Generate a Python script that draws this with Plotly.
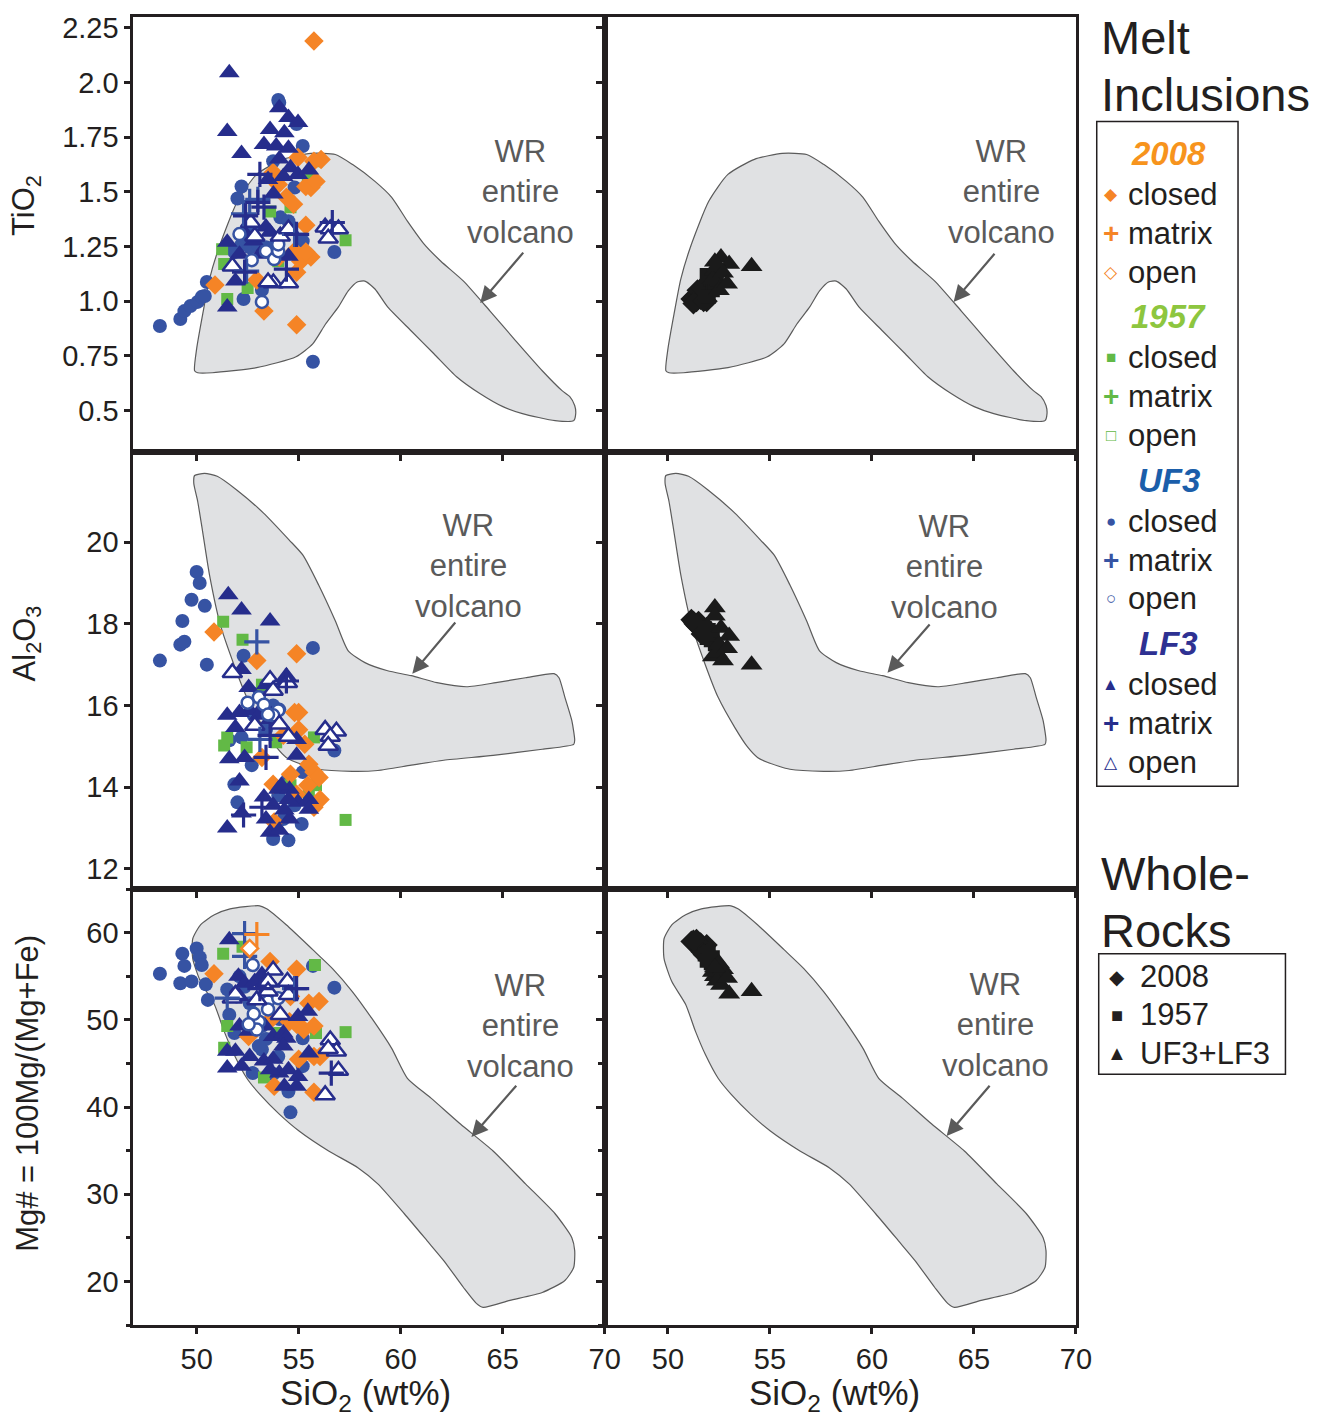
import plotly.graph_objects as go

W, H = 1339, 1425
FONT = "Liberation Sans, Arial, Helvetica, sans-serif"

# ---------------- Melt inclusions: TiO2 panel ----------------
LF3_closed_ti_si = [51.6,51.5,52.2,53.6,53.3,54.05,54.5,54.97,54.3,53.9,54.5,54.05,54.6,54.25,54.97,55.5,53.76,53.5,51.5,52.3,53.4,54.5,51.9,51.5,52.8,53.1,52.1,53.6]
LF3_closed_ti = [2.045,1.776,1.676,1.785,1.717,1.885,1.84,1.817,1.77,1.71,1.70,1.65,1.61,1.57,1.58,1.60,1.49,1.557,1.27,1.32,1.34,1.206,1.093,0.974,1.275,1.215,1.215,1.316]
LF3_open_ti_si = [52.65,54.1,54.5,51.75,52.85,53.76,54.5,56.3,56.55,56.95,56.45,53.5]
LF3_open_ti = [1.36,1.297,1.33,1.16,1.297,1.083,1.083,1.338,1.33,1.33,1.288,1.088]
LF3_matrix_ti_si = [53.1,53.0,52.4,54.4,54.9,56.65,52.35,53.3]
LF3_matrix_ti = [1.58,1.452,1.39,1.147,1.306,1.36,1.133,1.43]
UF3_closed_ti_si = [48.2,49.2,49.4,49.7,50.05,50.25,50.4,50.5,52.3,53.2,52.2,52.0,54.0,54.05,54.9,55.2,53.75,54.8,54.1,54.5,55.2,56.75,55.7,51.5,51.85,52.2,52.6,53.0,53.4,52.7,53.75,52.35]
UF3_closed_ti = [0.887,0.919,0.955,0.978,0.997,1.02,1.024,1.088,1.01,1.051,1.525,1.47,1.92,1.908,1.81,1.71,1.64,1.52,1.384,1.366,1.275,1.225,0.723,1.247,1.225,1.26,1.247,1.26,1.247,1.33,1.247,1.307]
UF3_open_ti_si = [53.2,52.7,53.4,53.8,54.0,54.0,52.1]
UF3_open_ti = [0.997,1.188,1.229,1.193,1.229,1.26,1.307]
UF3_matrix_ti_si = [52.6,53.0,52.3,52.45,54.8]
UF3_matrix_ti = [1.457,1.466,1.40,1.138,1.306]
Y2008_closed_ti_si = [55.75,50.9,53.3,54.9,52.95,55.35,54.8,54.9,55.1,55.6,55.35,54.4,54.75,55.35,55.6,56.1,55.75,54.97,54.0,53.75,55.85,54.05]
Y2008_closed_ti = [2.19,1.074,0.955,0.892,1.097,1.348,1.229,1.133,1.183,1.202,1.225,1.475,1.443,1.525,1.52,1.648,1.64,1.657,1.534,1.589,1.548,1.202]
Y1957_closed_ti_si = [54.6,55.9,57.3,51.5,52.5,51.35,51.25,53.6,54.0,55.45]
Y1957_closed_ti = [1.43,1.64,1.279,1.01,1.06,1.17,1.238,1.41,1.183,1.566]

# ---------------- Melt inclusions: Al2O3 panel ----------------
UF3_closed_al_si = [48.2,49.2,49.4,49.3,49.75,50.0,50.15,50.4,50.5,52.3,55.7,51.6,52.7,51.85,52.0,55.2,56.75,54.5,55.15,53.75,54.5,52.2,53.75,53.1,54.05,52.8,53.4,54.25,54.8,54.0]
UF3_closed_al = [17.1,17.49,17.56,18.07,18.59,19.27,19.0,18.44,17.0,17.22,17.41,15.15,14.54,14.07,13.63,14.37,14.9,14.24,13.1,12.73,12.7,15.22,16.0,16.32,15.9,15.76,15.41,13.22,13.56,13.8]
UF3_open_al_si = [53.05,53.3,54.0,53.75,52.5,53.5]
UF3_open_al = [16.2,16.02,15.88,15.76,16.07,15.78]
UF3_matrix_al_si = [52.95,53.1]
UF3_matrix_al = [17.56,15.17]
LF3_closed_al_si = [51.55,52.2,53.6,52.2,52.55,51.5,51.9,51.6,52.35,52.1,51.5,52.2,53.3,53.4,53.75,54.0,54.55,54.97,55.5,55.5,53.6,54.05,54.55,54.3,54.5,54.9,54.9,52.6,52.1,53.05,53.6,53.3,54.4,53.4,54.15]
LF3_closed_al = [18.71,18.34,18.07,16.88,16.44,15.76,15.46,14.7,14.73,14.15,13.0,13.37,13.76,13.22,13.56,13.95,13.95,13.63,13.7,13.46,12.9,12.95,13.22,13.44,13.7,15.17,14.78,15.88,15.83,15.76,15.66,16.0,16.73,16.51,14.05]
LF3_open_al_si = [51.75,53.6,54.45,53.75,54.05,54.5,52.85,56.3,56.85,56.55,56.45]
LF3_open_al = [16.8,16.63,16.56,16.37,15.54,15.24,15.51,15.41,15.37,15.24,15.02]
LF3_matrix_al_si = [54.4,53.4,53.2,52.3,53.6]
LF3_matrix_al = [16.6,14.73,13.51,13.32,15.27]
Y2008_closed_al_si = [50.85,52.95,54.9,54.8,55.0,55.0,55.3,54.25,53.2,55.5,55.75,56.0,55.45,56.05,53.75,54.6,54.9,55.75,53.8]
Y2008_closed_al = [17.8,17.1,17.27,15.83,15.83,15.41,15.05,15.27,14.73,14.56,14.37,14.24,14.05,13.7,14.07,14.32,13.83,13.51,13.15]
Y1957_closed_al_si = [51.3,52.25,57.3,55.75,55.85,51.35,51.5,52.45,53.9,53.2,54.6,55.5]
Y1957_closed_al = [18.05,17.61,13.2,15.22,14.05,15.02,15.22,14.98,15.1,16.51,14.05,13.8]

# ---------------- Melt inclusions: Mg# panel ----------------
UF3_closed_mg_si = [48.2,49.3,49.4,49.2,49.75,50.0,50.15,50.25,50.45,50.55,55.7,56.75,54.6,52.75,51.6,51.85,53.2,53.75,54.5,55.2,55.2,52.1,52.35,51.95,52.6,52.8,53.2,53.4,54.05,51.5,53.05,54.0]
UF3_closed_mg = [55.3,57.6,56.2,54.2,54.4,58.2,57.2,56.3,54.1,52.3,56.2,53.7,39.4,43.9,50.6,48.5,46.6,43.8,41.8,44.7,47.9,55.0,53.8,52.7,51.9,50.4,49.3,47.8,50.1,53.5,47.0,45.8]
UF3_open_mg_si = [52.75,53.5,53.05,52.8,54.0,52.95,52.55,53.5]
UF3_open_mg = [56.3,52.1,49.8,50.7,52.5,48.9,49.5,51.2]
UF3_matrix_mg_si = [52.35,52.35,54.8,51.5]
UF3_matrix_mg = [59.9,57.3,53.6,52.5]
LF3_closed_mg_si = [51.6,51.5,51.5,51.9,52.2,52.6,52.1,52.55,53.3,53.75,53.35,53.75,54.25,54.4,54.25,54.97,55.45,55.5,54.05,54.5,54.3,54.97,54.9,53.6,52.05,52.35,52.85,53.3,53.6,52.1,53.2]
LF3_closed_mg = [59.2,44.5,46.4,46.4,44.7,45.8,49.3,48.7,45.3,45.5,49.3,48.1,48.5,47.9,47.0,50.4,51.0,46.2,43.9,44.3,42.4,43.5,42.4,44.3,55.0,54.2,54.4,54.2,54.2,52.7,55.2]
LF3_open_mg_si = [53.75,53.5,54.45,54.5,51.75,52.95,54.1,51.9,56.55,56.85,56.45,56.95,56.3,53.5]
LF3_open_mg = [55.7,54.4,54.4,52.9,52.5,52.3,50.6,52.9,47.7,46.4,46.7,44.2,41.4,53.3]
LF3_matrix_mg_si = [54.9,56.6,53.1]
LF3_matrix_mg = [53.6,43.9,53.6]
Y2008_closed_mg_si = [50.85,53.6,54.9,55.5,56.0,55.75,56.05,55.75,53.8,54.55,54.9,55.0,55.25,55.75,54.6,53.7,52.55]
Y2008_closed_mg = [55.3,56.7,55.8,51.9,52.1,45.8,45.8,41.7,42.4,49.8,49.5,45.5,48.9,49.3,52.7,50.2,48.1]
Y2008_matrix_mg_si = [52.95]
Y2008_matrix_mg = [59.8]
Y2008_open_mg_si = [52.6]
Y2008_open_mg = [58.2]
Y1957_closed_mg_si = [51.3,52.25,55.8,57.3,55.85,51.5,51.35,53.3,54.05]
Y1957_closed_mg = [57.6,58.4,56.3,48.6,48.5,49.3,46.8,43.4,48.5]

# ---------------- Whole rocks ----------------
WR2008_si = [51.15,51.3,51.4,51.5,51.6,51.7,51.8,51.9,51.45,51.65,51.25,51.75]
WR2008_ti = [1.01,1.02,1.0,1.03,1.01,1.04,1.02,1.0,1.05,1.06,0.99,1.0]
WR2008_al = [18.1,18.0,17.95,18.05,17.95,17.85,17.8,17.9,18.0,17.75,18.05,17.8]
WR2008_mg = [59.0,58.7,59.2,58.5,58.8,58.3,58.0,58.6,58.9,57.8,59.1,57.5]
WR1957_si = [51.8,52.0,52.1,52.2,52.3,51.9,52.4,52.0]
WR1957_ti = [1.04,1.07,1.1,1.05,1.08,1.12,1.1,1.02]
WR1957_al = [17.9,17.7,17.6,17.8,17.5,17.65,17.4,17.85]
WR1957_mg = [57.5,57.0,56.5,57.2,56.0,56.8,55.5,57.8]
WRF3_si = [52.3,52.6,53.0,52.2,52.4,52.7,52.5,54.1,52.9,52.3]
WRF3_ti = [1.14,1.2,1.17,1.1,1.16,1.13,1.05,1.16,1.08,1.18]
WRF3_al = [18.4,17.9,17.7,17.2,17.3,17.1,17.5,17.0,17.4,18.2]
WRF3_mg = [55.0,54.0,53.0,55.5,54.5,55.8,56.5,53.3,54.8,56.0]

# ---------------- WR "entire volcano" field outlines ----------------
field_ti_si = [49.9,50.0,50.3,50.63,51.1,52.0,52.94,54.24,55.6,56.8,57.63,58.74,59.56,60.33,61.15,61.97,63.08,64.38,65.64,66.94,67.91,68.29,68.53,68.58,68.48,67.57,65.97,65.01,63.9,62.74,61.63,60.52,59.36,58.74,58.25,57.87,57.43,56.95,56.32,55.69,54.87,52.94,50.77,50.05]
field_ti = [0.682,0.782,0.942,1.101,1.247,1.457,1.58,1.649,1.676,1.671,1.626,1.548,1.475,1.366,1.261,1.183,1.092,0.955,0.819,0.682,0.591,0.564,0.523,0.486,0.454,0.454,0.486,0.518,0.577,0.655,0.76,0.864,0.974,1.056,1.092,1.088,1.047,0.974,0.896,0.805,0.746,0.696,0.673,0.673]
field_al_si = [49.9,50.39,51.01,51.98,53.28,54.54,55.21,55.98,56.8,57.43,58.25,59.36,60.52,61.78,63.22,64.67,66.12,67.52,67.76,68.05,68.39,68.53,68.48,66.94,64.53,62.11,60.52,58.88,57.63,55.98,54.87,54.39,53.91,53.28,52.46,51.83,51.16,50.63,50.29,50.05,49.86]
field_al = [21.63,21.68,21.61,21.27,20.71,20.05,19.68,18.95,18.07,17.34,17.05,16.85,16.73,16.56,16.46,16.56,16.68,16.78,16.68,16.2,15.63,15.15,15.05,14.93,14.78,14.66,14.54,14.41,14.39,14.44,14.61,14.73,14.98,15.46,16.2,17.0,17.98,19.2,20.27,21.0,21.44]
field_mg_si = [49.81,50.19,50.87,51.64,53.09,53.43,54.39,55.69,56.66,57.63,58.59,59.56,60.33,61.49,62.93,64.53,66.12,67.57,68.39,68.53,68.48,68.05,66.94,65.35,64.04,63.71,63.08,62.11,61.29,60.18,58.88,57.92,56.47,55.02,54.05,53.09,52.46,51.83,51.35,50.87,50.19,49.81]
field_mg = [59.31,60.91,62.06,62.74,63.09,62.74,60.91,58.06,55.89,53.26,50.17,46.74,43.31,41.03,38.06,34.97,31.2,27.77,25.03,23.54,21.6,20.11,18.74,17.83,17.03,17.49,19.31,22.4,24.69,27.77,31.2,33.03,34.97,37.26,39.2,41.49,43.31,46.06,48.69,51.77,54.4,57.03]

# axis tick values / labels
x_ticks = [50, 55, 60, 65, 70]
ti_ticks = [0.5, 0.75, 1.0, 1.25, 1.5, 1.75, 2.0, 2.25]
ti_labels = ["0.5", "0.75", "1.0", "1.25", "1.5", "1.75", "2.0", "2.25"]
al_ticks = [12, 14, 16, 18, 20]
mg_ticks = [20, 30, 40, 50, 60]

C_OR = "#F58426"
C_GR = "#62B946"
C_UF = "#3653A3"
C_LF = "#262D8C"
C_FRAME = "#231F20"
C_GRAY = "#5A5A5A"

fig = go.Figure()

def ax(i):
    return ("x" if i == 1 else f"x{i}", "y" if i == 1 else f"y{i}")

def field(i, xs, ys):
    xa, ya = ax(i)
    fig.add_trace(go.Scatter(x=xs + xs[:1], y=ys + ys[:1], mode="lines", line=dict(color="#5B5B5B", width=1.2, shape="spline", smoothing=0.6),
                             fill="toself", fillcolor="#E0E1E3", xaxis=xa, yaxis=ya, hoverinfo="skip", showlegend=False))

def pts(i, xs, ys, symbol, color, size, line_color=None, line_width=0):
    xa, ya = ax(i)
    fig.add_trace(go.Scatter(x=xs, y=ys, mode="markers", xaxis=xa, yaxis=ya, showlegend=False,
                             marker=dict(symbol=symbol, color=color, size=size,
                                         line=dict(color=line_color or color, width=line_width))))

def cross(i, xs, ys, color):
    pts(i, xs, ys, "cross-thin", color, 18, color, 3.2)

fields = [(field_ti_si, field_ti), (field_al_si, field_al), (field_mg_si, field_mg)]
for r, (fx, fy) in enumerate(fields):
    field(2 * r + 1, fx, fy)
    field(2 * r + 2, fx, fy)

# melt inclusion panels
mi = [
    (1, dict(uc=(UF3_closed_ti_si, UF3_closed_ti), g=(Y1957_closed_ti_si, Y1957_closed_ti), o=(Y2008_closed_ti_si, Y2008_closed_ti),
             lc=(LF3_closed_ti_si, LF3_closed_ti), uo=(UF3_open_ti_si, UF3_open_ti), lo=(LF3_open_ti_si, LF3_open_ti),
             um=(UF3_matrix_ti_si, UF3_matrix_ti), lm=(LF3_matrix_ti_si, LF3_matrix_ti))),
    (3, dict(uc=(UF3_closed_al_si, UF3_closed_al), g=(Y1957_closed_al_si, Y1957_closed_al), o=(Y2008_closed_al_si, Y2008_closed_al),
             lc=(LF3_closed_al_si, LF3_closed_al), uo=(UF3_open_al_si, UF3_open_al), lo=(LF3_open_al_si, LF3_open_al),
             um=(UF3_matrix_al_si, UF3_matrix_al), lm=(LF3_matrix_al_si, LF3_matrix_al))),
    (5, dict(uc=(UF3_closed_mg_si, UF3_closed_mg), g=(Y1957_closed_mg_si, Y1957_closed_mg), o=(Y2008_closed_mg_si, Y2008_closed_mg),
             lc=(LF3_closed_mg_si, LF3_closed_mg), uo=(UF3_open_mg_si, UF3_open_mg), lo=(LF3_open_mg_si, LF3_open_mg),
             um=(UF3_matrix_mg_si, UF3_matrix_mg), lm=(LF3_matrix_mg_si, LF3_matrix_mg))),
]
for i, d in mi:
    pts(i, *d["uc"], "circle", C_UF, 14)
    pts(i, *d["g"], "square", C_GR, 12)
    pts(i, *d["o"], "diamond", C_OR, 15)
    pts(i, *d["lc"], "triangle-up", C_LF, 18)
    pts(i, *d["uo"], "circle", "white", 12, C_UF, 2.5)
    pts(i, *d["lo"], "triangle-up", "white", 17, C_LF, 2.5)
    cross(i, *d["um"], C_UF)
    cross(i, *d["lm"], C_LF)
cross(5, Y2008_matrix_mg_si, Y2008_matrix_mg, C_OR)
pts(5, Y2008_open_mg_si, Y2008_open_mg, "diamond", "white", 13, C_OR, 2.5)

# whole-rock panels
for i, ys in [(2, (WR2008_ti, WR1957_ti, WRF3_ti)), (4, (WR2008_al, WR1957_al, WRF3_al)), (6, (WR2008_mg, WR1957_mg, WRF3_mg))]:
    pts(i, WR2008_si, ys[0], "diamond", "#1A1A1A", 17)
    pts(i, WR1957_si, ys[1], "square", "#1A1A1A", 14)
    pts(i, WRF3_si, ys[2], "triangle-up", "#1A1A1A", 19)

# ---------------- axes ----------------
xl = [135 / W, 612 / W]
xr = [612 / W, 1089 / W]
rows = [[1 - 449 / H, 1 - 12 / H], [1 - 887 / H, 1 - 449 / H], [1 - 1325 / H, 1 - 887 / H]]
yranges = [[0.3086, 2.300], [11.512, 22.195], [14.97, 65.03]]
yticks = [(ti_ticks, ti_labels), (al_ticks, [str(v) for v in al_ticks]), (mg_ticks, [str(v) for v in mg_ticks])]
minor_dt = [None, None, 5]

common = dict(showline=True, mirror=True, linewidth=3, linecolor=C_FRAME, ticks="outside", ticklen=6,
              tickwidth=3, tickcolor=C_FRAME, showgrid=False, zeroline=False,
              tickfont=dict(family=FONT, size=29, color=C_FRAME))
layout = {}
for r in range(3):
    for c in range(2):
        i = 2 * r + c + 1
        xn = "xaxis" if i == 1 else f"xaxis{i}"
        yn = "yaxis" if i == 1 else f"yaxis{i}"
        xa, ya = ax(i)
        layout[xn] = dict(common, domain=xl if c == 0 else xr, range=[46.9, 70], anchor=ya,
                          tickvals=x_ticks, showticklabels=(r == 2))
        yd = dict(common, domain=rows[r], range=yranges[r], anchor=xa,
                  tickvals=yticks[r][0], ticktext=yticks[r][1], showticklabels=(c == 0))
        if minor_dt[r]:
            yd["minor"] = dict(dtick=minor_dt[r], tick0=0, ticks="outside", ticklen=4, tickwidth=2.5, tickcolor=C_FRAME)
        layout[yn] = yd

fig.update_layout(**layout)

# ---------------- annotations ----------------
ann = []
def ptext(px, py, text, size, color=C_FRAME, xanchor="left", yanchor="middle", angle=0):
    ann.append(dict(xref="paper", yref="paper", x=px / W, y=1 - py / H, text=text, showarrow=False,
                    xanchor=xanchor, yanchor=yanchor, textangle=angle,
                    font=dict(family=FONT, size=size, color=color)))

# axis titles
ptext(27, 201, "TiO<sub>2</sub>", 31, xanchor="center", angle=-90)
ptext(27, 641, "Al<sub>2</sub>O<sub>3</sub>", 31, xanchor="center", angle=-90)
ptext(27, 1092, "Mg# = 100Mg/(Mg+Fe)", 31, xanchor="center", angle=-90)
ptext(370, 1395, "SiO<sub>2</sub> (wt%)", 35, xanchor="center")
ptext(845, 1395, "SiO<sub>2</sub> (wt%)", 35, xanchor="center")

# WR labels + arrows (data coordinates)
wr = [(1, 65.88, 1.50, 63.9, 0.992, 66.07, 1.229),
      (2, 66.36, 1.50, 64.0, 0.997, 66.07, 1.224),
      (3, 63.32, 19.41, 60.57, 16.78, 62.74, 18.07),
      (4, 63.56, 19.39, 60.76, 16.80, 62.89, 18.02),
      (5, 65.88, 49.26, 63.47, 36.57, 65.73, 42.63),
      (6, 66.07, 49.37, 63.66, 36.69, 65.83, 42.63)]
for i, tx, ty, hx, hy, sx, sy in wr:
    xa, ya = ax(i)
    ann.append(dict(xref=xa, yref=ya, x=tx, y=ty, text="WR<br>entire<br>volcano", showarrow=False,
                    xanchor="center", yanchor="middle", font=dict(family=FONT, size=31, color=C_GRAY)))
    ann.append(dict(xref=xa, yref=ya, x=hx, y=hy, axref=xa, ayref=ya, ax=sx, ay=sy, text="",
                    showarrow=True, arrowhead=2, arrowsize=1.5, arrowwidth=2.2, arrowcolor=C_GRAY, standoff=0))

# Melt inclusion legend
ptext(1112, 33, "Melt", 47)
ptext(1112, 90, "Inclusions", 47)
groups = [("2008", "#F7941D", C_OR, ["◆", "+", "◇"]),
          ("1957", "#8DC63F", C_GR, ["■", "+", "□"]),
          ("UF3", "#1B5EAA", C_UF, ["●", "+", "○"]),
          ("LF3", "#2E3192", C_LF, ["▲", "+", "△"])]
for g, (name, tcol, mcol, syms) in enumerate(groups):
    y0 = 149 + 164 * g
    ptext(1183, y0, f"<b><i>{name}</i></b>", 33, color=tcol, xanchor="center")
    for k, lab in enumerate(["closed", "matrix", "open"]):
        yy = y0 + 41 + 39 * k
        s = syms[k]
        ssize = 28 if s == "+" else 17
        ptext(1124, yy, f"<b>{s}</b>" if s == "+" else s, ssize, color=mcol, xanchor="center")
        ptext(1140, yy, lab, 31)

# Whole rock legend
ptext(1112, 872, "Whole-", 47)
ptext(1112, 929, "Rocks", 47)
for k, (s, lab) in enumerate([("◆", "2008"), ("■", "1957"), ("▲", "UF3+LF3")]):
    yy = 975 + 38.5 * k
    ptext(1131, yy, s, 20, xanchor="center")
    ptext(1152, yy, lab, 31)

shapes = [
    dict(type="rect", xref="paper", yref="paper", x0=1110 / W, x1=1253 / W, y0=1 - 784 / H, y1=1 - 117 / H,
         line=dict(color=C_FRAME, width=1.5)),
    dict(type="rect", xref="paper", yref="paper", x0=1112 / W, x1=1301 / W, y0=1 - 1073 / H, y1=1 - 952 / H,
         line=dict(color=C_FRAME, width=1.5)),
]

fig.update_layout(width=W, height=H, autosize=False, margin=dict(l=0, r=0, t=0, b=0), paper_bgcolor="white",
                  plot_bgcolor="white", annotations=ann, shapes=shapes, showlegend=False,
                  font=dict(family=FONT))
fig.write_html("out.html", config={"responsive": False},
               post_script="document.documentElement.style.overflow='hidden';document.body.style.margin='0';document.body.style.overflow='hidden';")
